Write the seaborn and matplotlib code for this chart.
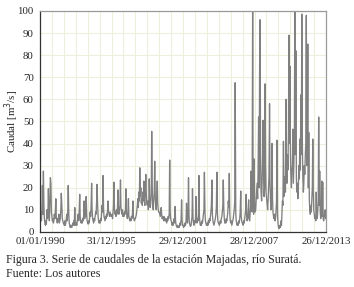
import pandas as pd
import matplotlib.pyplot as plt
import seaborn as sns

# --- datos (caudal semi-mensual, m3/s) ---
q_1990 = [10, 6, 9, 5, 11, 21, 8, 27.5, 12, 6, 4, 3, 5, 3.5, 10, 6, 8, 19.5, 7, 5, 14, 24.5, 22, 9]
q_1991 = [7, 5, 6, 4, 5, 8, 6, 9, 15, 7, 5, 4, 6, 5, 8, 4, 5, 6, 10, 17.5, 12, 6, 5, 4]
q_1992 = [4, 3, 5, 3, 4, 6, 8, 5, 10, 21, 8, 4, 3, 2, 3, 2.5, 2, 3, 4, 3, 5, 3, 11, 4]
q_1993 = [3, 4, 3, 5, 6, 8, 5, 9, 17, 7, 5, 4, 5, 4, 6, 5, 8, 14, 6, 9, 7, 16, 8, 5]
q_1994 = [4, 3.5, 5, 4, 6, 9, 7, 12, 22, 10, 6, 5, 4, 6, 5, 7, 9, 8, 14, 21.5, 12, 7, 5, 4]
q_1995 = [5, 4, 6, 5, 8, 12, 9, 25.5, 11, 7, 6, 5, 7, 6, 8, 7, 10, 14, 9, 8, 7, 9, 8, 7]
q_1996 = [7, 8, 6, 9, 12, 22.5, 10, 8, 9, 7, 10, 8, 11, 19, 9, 8, 10, 12, 23.5, 11, 9, 8, 10, 7]
q_1997 = [8, 7, 9, 8, 10, 19.5, 9, 7, 6, 8, 15, 7, 6, 5, 6, 5, 7, 6, 8, 14, 7, 6, 5, 6]
q_1998 = [6, 7, 8, 10, 12, 15, 11, 18, 14, 29, 16, 20, 13, 15, 12, 18, 14, 23, 15, 12, 19, 26, 17, 13]
q_1999 = [12, 14, 10, 13, 24, 15, 11, 13, 17, 45.5, 20, 12, 10, 14, 18, 32, 16, 12, 10, 15, 23, 13, 10, 9]
q_2000 = [9, 8, 7, 9, 11, 8, 6, 7, 6, 5, 7, 6, 5, 6, 5, 4, 6, 5, 7, 6, 8, 32.5, 9, 6]
q_2001 = [5, 4, 3, 4, 3, 5, 6, 4, 11.5, 5, 3, 2.5, 2, 3, 2, 2.5, 2, 3, 4, 3, 6, 14.5, 5, 3]
q_2002 = [3, 2, 3, 2.5, 4, 3, 5, 13, 6, 4, 8, 24.5, 7, 4, 3, 2.5, 3, 5, 7, 19.5, 6, 4, 3, 5]
q_2003 = [4, 6, 16, 5, 4, 6, 5, 8, 25.5, 7, 4, 3, 4, 3, 5, 4, 6, 8, 10, 27, 9, 5, 4, 3]
q_2004 = [3, 4, 3, 5, 4, 6, 5, 7, 9, 12, 23.5, 8, 5, 4, 3, 4, 5, 6, 8, 11, 27, 9, 5, 4]
q_2005 = [4, 3, 4, 5, 4, 6, 7, 9, 12, 23.5, 10, 6, 4, 5, 4, 6, 5, 7, 9, 14, 11, 26.5, 8, 5]
q_2006 = [4, 5, 3, 4, 5, 6, 8, 10, 14, 67.5, 9, 5, 4, 3, 4, 3, 5, 4, 6, 9, 18.5, 7, 5, 4]
q_2007 = [4, 3, 5, 4, 6, 8, 10, 17, 7, 5, 6, 9, 14.5, 6, 5, 8, 12, 27.5, 10, 9, 105, 15, 8, 33]
q_2008 = [12, 9, 10, 14, 18, 22, 15, 28, 52, 20, 75.5, 96, 30, 18, 14, 22, 35, 50.5, 25, 16, 20, 67, 30, 18]
q_2009 = [15, 12, 10, 14, 20, 25, 58, 22, 14, 10, 18, 40, 15, 9, 7, 6, 8, 5, 6, 9, 14, 41.5, 8, 4]
q_2010 = [2, 1.5, 2, 3, 2, 5, 3, 8, 14, 12, 41, 16, 20, 25, 18, 60, 30, 22, 35, 28, 45, 89, 40, 75]
q_2011 = [35, 25, 20, 28, 30, 46.5, 22, 30, 40, 105, 35, 82, 25, 18, 22, 15, 20, 30, 24, 42, 28, 62, 35, 98.5]
q_2012 = [40, 25, 18, 22, 30, 26, 35, 40, 98, 30, 45, 85, 20, 45, 15, 10, 8, 12, 9, 14, 20, 42, 18, 10]
q_2013 = [8, 6, 7, 5, 18, 8, 6, 9, 14, 52, 12, 27.5, 9, 6, 8, 23, 7, 22.5, 6, 5, 7, 8, 10, 6]

anios = [q_1990, q_1991, q_1992, q_1993, q_1994, q_1995, q_1996, q_1997,
         q_1998, q_1999, q_2000, q_2001, q_2002, q_2003, q_2004, q_2005,
         q_2006, q_2007, q_2008, q_2009, q_2010, q_2011, q_2012, q_2013]

etiquetas_x = ["01/01/1990", "31/12/1995", "29/12/2001", "28/12/2007", "26/12/2013"]

caudal = [v for anio in anios for v in anio]
fechas = pd.date_range("1990-01-01", periods=len(caudal), freq="SMS")
df = pd.DataFrame({"Fecha": fechas, "Caudal": caudal})

SERIF = ["Liberation Serif", "DejaVu Serif"]

sns.set_style("white")
plt.rcParams['font.family'] = SERIF

fig = plt.figure(figsize=(3.54, 2.87), dpi=100)
ax = fig.add_axes([0.113, 0.192, 0.808, 0.77])

sns.lineplot(data=df, x="Fecha", y="Caudal", color="#808080", linewidth=0.95, ax=ax)

x_ini = pd.Timestamp("1990-01-01")
x_fin = pd.Timestamp("2013-12-26")
ax.set_xlim(x_ini, x_fin)
ax.set_ylim(0, 100)

# grilla anual (365 días) y cada 10 m3/s
menores = [x_ini + pd.Timedelta(days=365 * i) for i in range(25)]
mayores = [pd.to_datetime(e, dayfirst=True) for e in etiquetas_x]
ax.set_xticks(mayores)
ax.set_xticklabels(etiquetas_x)
ax.set_xticks(menores, minor=True)
ax.set_yticks(range(0, 101, 10))
ax.grid(True, which="both", color="#eeeedd", linewidth=0.8)
ax.set_axisbelow(True)

ax.tick_params(axis="both", which="major", labelsize=7.8, length=3, width=0.8,
               color="#333333", pad=1.5)
ax.tick_params(axis="x", which="minor", length=0)
ax.tick_params(axis="x", which="major", direction="inout", length=4)

for s in ["left", "bottom"]:
    ax.spines[s].set_color("#333333")
    ax.spines[s].set_linewidth(0.9)
for s in ["top", "right"]:
    ax.spines[s].set_color("#9a9a9a")
    ax.spines[s].set_linewidth(0.9)

ax.set_xlabel("")
ax.set_ylabel("Caudal [m$^3$/s]", fontsize=7.8, labelpad=0)
ax.yaxis.set_label_coords(-0.066, 0.5)

fig.text(0.017, 0.095, "Figura 3. Serie de caudales de la estación Majadas, río Suratá.",
         fontsize=8.6, va="center", ha="left")
fig.text(0.017, 0.047, "Fuente: Los autores", fontsize=8.6, va="center", ha="left")

plt.savefig("out.png", dpi=100)
